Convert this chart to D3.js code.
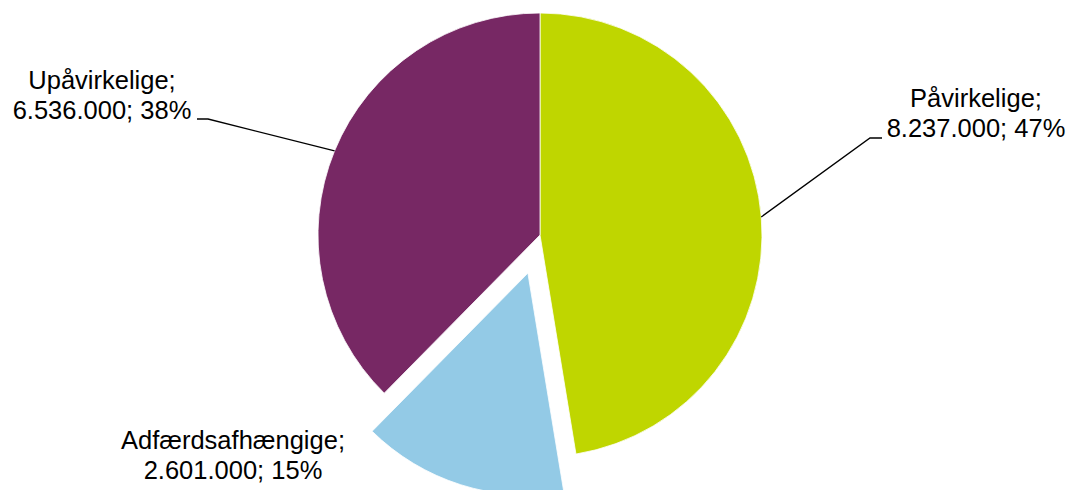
<!DOCTYPE html>
<html>
<head>
<meta charset="utf-8">
<script src="https://cdn.jsdelivr.net/npm/d3@7"></script>
<style>
  html, body { margin: 0; padding: 0; background: #fff; }
  svg { display: block; }
  .label { font-family: "Liberation Sans", Arial, sans-serif; font-size: 25.5px; fill: #000; }
</style>
</head>
<body>
<div id="chart"></div>
<script>
// data
const categories = ["Påvirkelige", "Adfærdsafhængige", "Upåvirkelige"];
const values = [8237000, 2601000, 6536000];
const percentLabels = ["47%", "15%", "38%"];
const colors = ["#bfd600", "#93cae6", "#772864"];

const width = 1071;
const height = 490;
const cx = 540, cy = 235, radius = 222;
const explodeIndex = 1, explodeDist = 40;

const fmt = d3.formatLocale({ decimal: ",", thousands: ".", grouping: [3], currency: ["", ""] }).format(",d");

const svg = d3.select("#chart").append("svg")
  .attr("width", width)
  .attr("height", height);

const g = svg.append("g").attr("transform", `translate(${cx},${cy})`);

const pie = d3.pie().sort(null).value(d => d.value);
const arcs = pie(categories.map((c, i) => ({ name: c, value: values[i], pct: percentLabels[i], color: colors[i] })));

const arc = d3.arc().innerRadius(0).outerRadius(radius);

// unit vector for an angle (0 = top, clockwise)
const dir = a => [Math.sin(a), -Math.cos(a)];

g.selectAll("path.slice")
  .data(arcs)
  .join("path")
  .attr("class", "slice")
  .attr("d", arc)
  .attr("fill", d => d.data.color)
  .attr("stroke", "#fff")
  .attr("stroke-width", 0.8)
  .attr("transform", (d, i) => {
    if (i !== explodeIndex) return null;
    const [ux, uy] = dir((d.startAngle + d.endAngle) / 2);
    return `translate(${ux * explodeDist},${uy * explodeDist})`;
  });

// label layout (absolute page coords): text centre, first baseline, and leader elbow/end
const labelLayout = [
  { x: 976, y: 107, elbow: [870, 138], end: [882, 138] },
  { x: 233, y: 449, elbow: null, end: null },
  { x: 102, y: 89, elbow: [208, 119], end: [197, 119] }
];

const lg = svg.append("g");

arcs.forEach((d, i) => {
  const L = labelLayout[i];
  if (L.elbow) {
    const [ux, uy] = dir((d.startAngle + d.endAngle) / 2);
    const start = [cx + ux * radius, cy + uy * radius];
    lg.append("polyline")
      .attr("points", [start, L.elbow, L.end].map(p => p.join(",")).join(" "))
      .attr("fill", "none")
      .attr("stroke", "#000")
      .attr("stroke-width", 1.3);
  }
  const t = lg.append("text")
    .attr("class", "label")
    .attr("text-anchor", "middle")
    .attr("x", L.x)
    .attr("y", L.y);
  t.append("tspan").attr("x", L.x).text(d.data.name + ";");
  t.append("tspan").attr("x", L.x).attr("dy", 29.5).text(fmt(d.data.value) + "; " + d.data.pct);
});
</script>
</body>
</html>
